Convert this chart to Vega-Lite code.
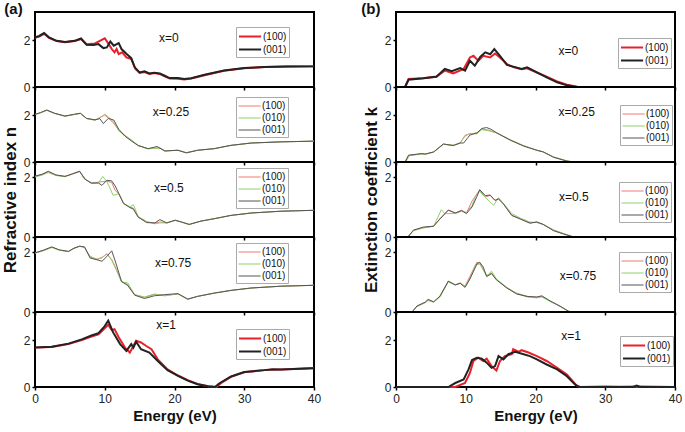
{
"$schema": "https://vega.github.io/schema/vega-lite/v6.json",
"padding": {"left": 0, "top": 2, "right": 0, "bottom": 0},
"background": "white",
"datasets": {
"L1": [
{"s":"(100)","e":0,"v":2.1},{"s":"(100)","e":0.6,"v":2.15},{"s":"(100)","e":1.3,"v":2.27},{"s":"(100)","e":2.0,"v":2.1},{"s":"(100)","e":3.1,"v":1.96},{"s":"(100)","e":4.3,"v":1.91},{"s":"(100)","e":5.7,"v":1.96},{"s":"(100)","e":6.6,"v":2.05},{"s":"(100)","e":7.4,"v":1.82},{"s":"(100)","e":8.6,"v":1.86},{"s":"(100)","e":9.3,"v":1.97},{"s":"(100)","e":10.0,"v":2.08},{"s":"(100)","e":10.5,"v":1.86},{"s":"(100)","e":11.0,"v":1.62},{"s":"(100)","e":11.4,"v":1.48},{"s":"(100)","e":11.7,"v":1.62},{"s":"(100)","e":12.0,"v":1.4},{"s":"(100)","e":12.5,"v":1.48},{"s":"(100)","e":13.1,"v":1.26},{"s":"(100)","e":13.8,"v":1.19},{"s":"(100)","e":14.4,"v":0.77},{"s":"(100)","e":15.0,"v":0.6},{"s":"(100)","e":15.7,"v":0.64},{"s":"(100)","e":16.4,"v":0.56},{"s":"(100)","e":17.1,"v":0.6},{"s":"(100)","e":17.9,"v":0.55},{"s":"(100)","e":18.6,"v":0.45},{"s":"(100)","e":19.3,"v":0.36},{"s":"(100)","e":20.5,"v":0.35},{"s":"(100)","e":21.4,"v":0.32},{"s":"(100)","e":22.4,"v":0.36},{"s":"(100)","e":24.3,"v":0.5},{"s":"(100)","e":27.1,"v":0.69},{"s":"(100)","e":30,"v":0.8},{"s":"(100)","e":32.9,"v":0.85},{"s":"(100)","e":36.2,"v":0.87},{"s":"(100)","e":40,"v":0.88},
{"s":"(001)","e":0,"v":2.11},{"s":"(001)","e":0.6,"v":2.18},{"s":"(001)","e":1.3,"v":2.3},{"s":"(001)","e":2.0,"v":2.12},{"s":"(001)","e":3.1,"v":1.97},{"s":"(001)","e":4.3,"v":1.92},{"s":"(001)","e":5.7,"v":1.97},{"s":"(001)","e":6.6,"v":2.07},{"s":"(001)","e":7.4,"v":1.8},{"s":"(001)","e":8.4,"v":1.79},{"s":"(001)","e":9.1,"v":1.83},{"s":"(001)","e":9.8,"v":1.66},{"s":"(001)","e":10.3,"v":1.69},{"s":"(001)","e":10.8,"v":1.94},{"s":"(001)","e":11.3,"v":1.76},{"s":"(001)","e":12.0,"v":1.87},{"s":"(001)","e":12.4,"v":1.62},{"s":"(001)","e":13.1,"v":1.42},{"s":"(001)","e":13.8,"v":1.23},{"s":"(001)","e":14.3,"v":0.84},{"s":"(001)","e":15.0,"v":0.62},{"s":"(001)","e":15.7,"v":0.67},{"s":"(001)","e":16.4,"v":0.58},{"s":"(001)","e":17.1,"v":0.61},{"s":"(001)","e":17.9,"v":0.58},{"s":"(001)","e":18.6,"v":0.48},{"s":"(001)","e":19.3,"v":0.38},{"s":"(001)","e":20.5,"v":0.38},{"s":"(001)","e":21.4,"v":0.34},{"s":"(001)","e":22.4,"v":0.37},{"s":"(001)","e":24.3,"v":0.52},{"s":"(001)","e":27.1,"v":0.7},{"s":"(001)","e":30,"v":0.81},{"s":"(001)","e":32.9,"v":0.85},{"s":"(001)","e":36.2,"v":0.87},{"s":"(001)","e":40,"v":0.88}
],
"L2": [
{"s":"(100)","e":0,"v":2.03},{"s":"(100)","e":0.8,"v":2.1},{"s":"(100)","e":1.7,"v":2.21},{"s":"(100)","e":2.8,"v":2.08},{"s":"(100)","e":4.3,"v":1.96},{"s":"(100)","e":5.5,"v":2.02},{"s":"(100)","e":6.5,"v":2.07},{"s":"(100)","e":7.4,"v":1.86},{"s":"(100)","e":8.6,"v":1.79},{"s":"(100)","e":9.3,"v":1.9},{"s":"(100)","e":10.0,"v":2.0},{"s":"(100)","e":10.6,"v":1.85},{"s":"(100)","e":11.3,"v":1.65},{"s":"(100)","e":12.0,"v":1.36},{"s":"(100)","e":12.9,"v":1.14},{"s":"(100)","e":13.8,"v":0.93},{"s":"(100)","e":14.8,"v":0.71},{"s":"(100)","e":16.2,"v":0.57},{"s":"(100)","e":17.9,"v":0.6},{"s":"(100)","e":18.6,"v":0.47},{"s":"(100)","e":20.5,"v":0.5},{"s":"(100)","e":21.7,"v":0.39},{"s":"(100)","e":23.3,"v":0.5},{"s":"(100)","e":25.7,"v":0.57},{"s":"(100)","e":28.1,"v":0.71},{"s":"(100)","e":31,"v":0.81},{"s":"(100)","e":35.3,"v":0.86},{"s":"(100)","e":40,"v":0.89},
{"s":"(010)","e":0,"v":2.02},{"s":"(010)","e":0.8,"v":2.1},{"s":"(010)","e":1.7,"v":2.2},{"s":"(010)","e":2.8,"v":2.07},{"s":"(010)","e":4.3,"v":1.95},{"s":"(010)","e":5.5,"v":2.02},{"s":"(010)","e":6.5,"v":2.08},{"s":"(010)","e":7.4,"v":1.85},{"s":"(010)","e":8.6,"v":1.78},{"s":"(010)","e":9.3,"v":1.88},{"s":"(010)","e":10.0,"v":2.04},{"s":"(010)","e":10.6,"v":1.9},{"s":"(010)","e":11.3,"v":1.7},{"s":"(010)","e":12.0,"v":1.33},{"s":"(010)","e":12.9,"v":1.12},{"s":"(010)","e":13.8,"v":0.95},{"s":"(010)","e":14.8,"v":0.7},{"s":"(010)","e":16.2,"v":0.56},{"s":"(010)","e":17.9,"v":0.6},{"s":"(010)","e":18.6,"v":0.48},{"s":"(010)","e":20.5,"v":0.5},{"s":"(010)","e":21.7,"v":0.4},{"s":"(010)","e":23.3,"v":0.5},{"s":"(010)","e":25.7,"v":0.57},{"s":"(010)","e":28.1,"v":0.71},{"s":"(010)","e":31,"v":0.81},{"s":"(010)","e":35.3,"v":0.86},{"s":"(010)","e":40,"v":0.89},
{"s":"(001)","e":0,"v":2.03},{"s":"(001)","e":0.8,"v":2.11},{"s":"(001)","e":1.7,"v":2.22},{"s":"(001)","e":2.8,"v":2.08},{"s":"(001)","e":4.3,"v":1.96},{"s":"(001)","e":5.5,"v":2.03},{"s":"(001)","e":6.5,"v":2.08},{"s":"(001)","e":7.4,"v":1.86},{"s":"(001)","e":8.6,"v":1.8},{"s":"(001)","e":9.3,"v":1.85},{"s":"(001)","e":9.8,"v":1.64},{"s":"(001)","e":10.5,"v":1.86},{"s":"(001)","e":11.3,"v":1.79},{"s":"(001)","e":12.0,"v":1.4},{"s":"(001)","e":12.9,"v":1.1},{"s":"(001)","e":13.8,"v":0.9},{"s":"(001)","e":14.8,"v":0.7},{"s":"(001)","e":16.2,"v":0.57},{"s":"(001)","e":17.5,"v":0.66},{"s":"(001)","e":18.6,"v":0.47},{"s":"(001)","e":20.5,"v":0.5},{"s":"(001)","e":21.7,"v":0.39},{"s":"(001)","e":23.3,"v":0.5},{"s":"(001)","e":25.7,"v":0.57},{"s":"(001)","e":28.1,"v":0.71},{"s":"(001)","e":31,"v":0.81},{"s":"(001)","e":35.3,"v":0.86},{"s":"(001)","e":40,"v":0.89}
],
"L3": [
{"s":"(100)","e":0,"v":2.02},{"s":"(100)","e":1.0,"v":2.08},{"s":"(100)","e":1.9,"v":2.17},{"s":"(100)","e":3.0,"v":2.06},{"s":"(100)","e":4.3,"v":2.02},{"s":"(100)","e":5.4,"v":2.1},{"s":"(100)","e":6.4,"v":2.18},{"s":"(100)","e":7.2,"v":1.93},{"s":"(100)","e":8.1,"v":1.78},{"s":"(100)","e":9.1,"v":1.83},{"s":"(100)","e":10.3,"v":1.86},{"s":"(100)","e":11.0,"v":1.82},{"s":"(100)","e":11.5,"v":1.55},{"s":"(100)","e":12.0,"v":1.44},{"s":"(100)","e":12.7,"v":1.11},{"s":"(100)","e":13.6,"v":1.0},{"s":"(100)","e":14.1,"v":0.96},{"s":"(100)","e":14.8,"v":0.67},{"s":"(100)","e":16.0,"v":0.5},{"s":"(100)","e":17.2,"v":0.46},{"s":"(100)","e":17.9,"v":0.5},{"s":"(100)","e":18.9,"v":0.47},{"s":"(100)","e":20.1,"v":0.56},{"s":"(100)","e":21.0,"v":0.5},{"s":"(100)","e":22.1,"v":0.42},{"s":"(100)","e":23.8,"v":0.53},{"s":"(100)","e":25.7,"v":0.61},{"s":"(100)","e":28.1,"v":0.72},{"s":"(100)","e":31,"v":0.8},{"s":"(100)","e":35.3,"v":0.86},{"s":"(100)","e":40,"v":0.89},
{"s":"(010)","e":0,"v":2.0},{"s":"(010)","e":1.0,"v":2.06},{"s":"(010)","e":1.9,"v":2.15},{"s":"(010)","e":3.0,"v":2.05},{"s":"(010)","e":4.3,"v":2.01},{"s":"(010)","e":5.4,"v":2.1},{"s":"(010)","e":6.4,"v":2.2},{"s":"(010)","e":7.0,"v":1.95},{"s":"(010)","e":8.1,"v":1.8},{"s":"(010)","e":9.1,"v":1.8},{"s":"(010)","e":9.7,"v":2.02},{"s":"(010)","e":10.3,"v":1.85},{"s":"(010)","e":10.8,"v":1.6},{"s":"(010)","e":11.2,"v":1.39},{"s":"(010)","e":12.0,"v":1.44},{"s":"(010)","e":12.7,"v":1.12},{"s":"(010)","e":13.6,"v":1.0},{"s":"(010)","e":14.1,"v":1.08},{"s":"(010)","e":14.8,"v":0.68},{"s":"(010)","e":16.0,"v":0.52},{"s":"(010)","e":17.2,"v":0.44},{"s":"(010)","e":17.9,"v":0.47},{"s":"(010)","e":18.9,"v":0.47},{"s":"(010)","e":20.1,"v":0.55},{"s":"(010)","e":21.0,"v":0.5},{"s":"(010)","e":22.1,"v":0.41},{"s":"(010)","e":23.8,"v":0.53},{"s":"(010)","e":25.7,"v":0.61},{"s":"(010)","e":28.1,"v":0.72},{"s":"(010)","e":31,"v":0.8},{"s":"(010)","e":35.3,"v":0.86},{"s":"(010)","e":40,"v":0.89},
{"s":"(001)","e":0,"v":2.03},{"s":"(001)","e":1.0,"v":2.09},{"s":"(001)","e":1.9,"v":2.19},{"s":"(001)","e":3.0,"v":2.07},{"s":"(001)","e":4.3,"v":2.02},{"s":"(001)","e":5.4,"v":2.11},{"s":"(001)","e":6.4,"v":2.19},{"s":"(001)","e":7.2,"v":1.92},{"s":"(001)","e":8.1,"v":1.8},{"s":"(001)","e":9.1,"v":1.8},{"s":"(001)","e":9.6,"v":1.72},{"s":"(001)","e":10.3,"v":1.89},{"s":"(001)","e":11.0,"v":1.87},{"s":"(001)","e":11.5,"v":1.7},{"s":"(001)","e":12.0,"v":1.46},{"s":"(001)","e":12.7,"v":1.12},{"s":"(001)","e":13.6,"v":0.98},{"s":"(001)","e":14.1,"v":0.93},{"s":"(001)","e":14.8,"v":0.66},{"s":"(001)","e":16.0,"v":0.48},{"s":"(001)","e":17.2,"v":0.47},{"s":"(001)","e":17.9,"v":0.58},{"s":"(001)","e":18.9,"v":0.47},{"s":"(001)","e":20.1,"v":0.56},{"s":"(001)","e":21.0,"v":0.5},{"s":"(001)","e":22.1,"v":0.42},{"s":"(001)","e":23.8,"v":0.53},{"s":"(001)","e":25.7,"v":0.61},{"s":"(001)","e":28.1,"v":0.72},{"s":"(001)","e":31,"v":0.8},{"s":"(001)","e":35.3,"v":0.86},{"s":"(001)","e":40,"v":0.89}
],
"L4": [
{"s":"(100)","e":0,"v":1.97},{"s":"(100)","e":1.2,"v":2.05},{"s":"(100)","e":2.4,"v":2.16},{"s":"(100)","e":3.5,"v":2.06},{"s":"(100)","e":4.8,"v":2.02},{"s":"(100)","e":5.6,"v":2.12},{"s":"(100)","e":6.4,"v":2.19},{"s":"(100)","e":7.1,"v":2.16},{"s":"(100)","e":7.9,"v":1.83},{"s":"(100)","e":8.9,"v":1.76},{"s":"(100)","e":9.6,"v":1.82},{"s":"(100)","e":10.3,"v":1.93},{"s":"(100)","e":11.0,"v":1.75},{"s":"(100)","e":11.7,"v":1.41},{"s":"(100)","e":12.4,"v":1.02},{"s":"(100)","e":13.3,"v":0.91},{"s":"(100)","e":14.3,"v":0.58},{"s":"(100)","e":15.7,"v":0.49},{"s":"(100)","e":17.1,"v":0.58},{"s":"(100)","e":18.6,"v":0.54},{"s":"(100)","e":20.5,"v":0.61},{"s":"(100)","e":21.9,"v":0.43},{"s":"(100)","e":23.3,"v":0.52},{"s":"(100)","e":25.7,"v":0.63},{"s":"(100)","e":28.1,"v":0.72},{"s":"(100)","e":31,"v":0.8},{"s":"(100)","e":35.3,"v":0.86},{"s":"(100)","e":40,"v":0.89},
{"s":"(010)","e":0,"v":1.96},{"s":"(010)","e":1.2,"v":2.04},{"s":"(010)","e":2.4,"v":2.15},{"s":"(010)","e":3.5,"v":2.06},{"s":"(010)","e":4.8,"v":2.01},{"s":"(010)","e":5.6,"v":2.12},{"s":"(010)","e":6.4,"v":2.2},{"s":"(010)","e":7.1,"v":2.15},{"s":"(010)","e":7.9,"v":1.86},{"s":"(010)","e":8.9,"v":1.75},{"s":"(010)","e":9.6,"v":1.8},{"s":"(010)","e":10.3,"v":1.95},{"s":"(010)","e":11.0,"v":1.72},{"s":"(010)","e":11.7,"v":1.38},{"s":"(010)","e":12.4,"v":1.0},{"s":"(010)","e":13.3,"v":0.97},{"s":"(010)","e":14.3,"v":0.57},{"s":"(010)","e":15.7,"v":0.5},{"s":"(010)","e":17.1,"v":0.6},{"s":"(010)","e":18.6,"v":0.55},{"s":"(010)","e":20.5,"v":0.6},{"s":"(010)","e":21.9,"v":0.42},{"s":"(010)","e":23.3,"v":0.52},{"s":"(010)","e":25.7,"v":0.63},{"s":"(010)","e":28.1,"v":0.72},{"s":"(010)","e":31,"v":0.8},{"s":"(010)","e":35.3,"v":0.86},{"s":"(010)","e":40,"v":0.89},
{"s":"(001)","e":0,"v":1.97},{"s":"(001)","e":1.2,"v":2.06},{"s":"(001)","e":2.4,"v":2.17},{"s":"(001)","e":3.5,"v":2.07},{"s":"(001)","e":4.8,"v":2.02},{"s":"(001)","e":5.6,"v":2.13},{"s":"(001)","e":6.4,"v":2.19},{"s":"(001)","e":7.1,"v":2.17},{"s":"(001)","e":7.9,"v":1.8},{"s":"(001)","e":8.9,"v":1.74},{"s":"(001)","e":9.6,"v":1.69},{"s":"(001)","e":10.3,"v":1.85},{"s":"(001)","e":11.0,"v":2.04},{"s":"(001)","e":11.5,"v":1.7},{"s":"(001)","e":12.4,"v":1.02},{"s":"(001)","e":13.3,"v":0.88},{"s":"(001)","e":14.3,"v":0.56},{"s":"(001)","e":15.7,"v":0.45},{"s":"(001)","e":17.1,"v":0.54},{"s":"(001)","e":18.6,"v":0.58},{"s":"(001)","e":20.5,"v":0.61},{"s":"(001)","e":21.9,"v":0.43},{"s":"(001)","e":23.3,"v":0.52},{"s":"(001)","e":25.7,"v":0.63},{"s":"(001)","e":28.1,"v":0.72},{"s":"(001)","e":31,"v":0.8},{"s":"(001)","e":35.3,"v":0.86},{"s":"(001)","e":40,"v":0.89}
],
"L5": [
{"s":"(100)","e":0,"v":1.68},{"s":"(100)","e":2.4,"v":1.71},{"s":"(100)","e":4.8,"v":1.83},{"s":"(100)","e":6.7,"v":2.0},{"s":"(100)","e":8.1,"v":2.15},{"s":"(100)","e":9.1,"v":2.25},{"s":"(100)","e":10.0,"v":2.5},{"s":"(100)","e":10.5,"v":2.65},{"s":"(100)","e":11.0,"v":2.43},{"s":"(100)","e":11.4,"v":2.47},{"s":"(100)","e":12.0,"v":2.12},{"s":"(100)","e":12.9,"v":1.68},{"s":"(100)","e":13.6,"v":1.47},{"s":"(100)","e":14.5,"v":1.97},{"s":"(100)","e":15.2,"v":1.9},{"s":"(100)","e":15.9,"v":1.76},{"s":"(100)","e":16.7,"v":1.61},{"s":"(100)","e":17.6,"v":1.18},{"s":"(100)","e":19.0,"v":0.75},{"s":"(100)","e":20.5,"v":0.49},{"s":"(100)","e":21.9,"v":0.29},{"s":"(100)","e":23.3,"v":0.13},{"s":"(100)","e":24.8,"v":0.03},{"s":"(100)","e":26.0,"v":0.0},{"s":"(100)","e":26.7,"v":0.17},{"s":"(100)","e":28.1,"v":0.43},{"s":"(100)","e":30,"v":0.63},{"s":"(100)","e":32.9,"v":0.72},{"s":"(100)","e":35.3,"v":0.75},{"s":"(100)","e":40,"v":0.81},
{"s":"(001)","e":0,"v":1.69},{"s":"(001)","e":2.4,"v":1.72},{"s":"(001)","e":4.8,"v":1.85},{"s":"(001)","e":6.7,"v":2.03},{"s":"(001)","e":8.1,"v":2.2},{"s":"(001)","e":9.1,"v":2.3},{"s":"(001)","e":10.0,"v":2.6},{"s":"(001)","e":10.5,"v":2.83},{"s":"(001)","e":11.2,"v":2.33},{"s":"(001)","e":12.2,"v":1.83},{"s":"(001)","e":13.1,"v":1.54},{"s":"(001)","e":13.8,"v":1.83},{"s":"(001)","e":14.1,"v":1.68},{"s":"(001)","e":14.5,"v":1.93},{"s":"(001)","e":15.2,"v":1.61},{"s":"(001)","e":16.4,"v":1.47},{"s":"(001)","e":17.6,"v":1.11},{"s":"(001)","e":19.0,"v":0.72},{"s":"(001)","e":20.5,"v":0.47},{"s":"(001)","e":21.9,"v":0.27},{"s":"(001)","e":23.3,"v":0.12},{"s":"(001)","e":24.8,"v":0.03},{"s":"(001)","e":25.8,"v":0.0},{"s":"(001)","e":26.4,"v":0.15},{"s":"(001)","e":28.1,"v":0.45},{"s":"(001)","e":30,"v":0.64},{"s":"(001)","e":32.9,"v":0.72},{"s":"(001)","e":34,"v":0.76},{"s":"(001)","e":35.3,"v":0.75},{"s":"(001)","e":40,"v":0.8}
],
"R1": [
{"s":"(100)","e":0,"v":0},{"s":"(100)","e":1.3,"v":0},{"s":"(100)","e":1.8,"v":0.34},{"s":"(100)","e":3.9,"v":0.37},{"s":"(100)","e":5.8,"v":0.45},{"s":"(100)","e":7.0,"v":0.7},{"s":"(100)","e":8.2,"v":0.58},{"s":"(100)","e":9.7,"v":0.77},{"s":"(100)","e":10.6,"v":1.26},{"s":"(100)","e":11.1,"v":1.33},{"s":"(100)","e":11.8,"v":1.12},{"s":"(100)","e":12.5,"v":1.33},{"s":"(100)","e":13.5,"v":1.26},{"s":"(100)","e":14.2,"v":1.43},{"s":"(100)","e":14.9,"v":1.26},{"s":"(100)","e":15.9,"v":0.98},{"s":"(100)","e":16.8,"v":0.85},{"s":"(100)","e":18.0,"v":0.76},{"s":"(100)","e":18.8,"v":0.8},{"s":"(100)","e":20.2,"v":0.62},{"s":"(100)","e":21.6,"v":0.44},{"s":"(100)","e":23.1,"v":0.24},{"s":"(100)","e":24.5,"v":0.1},{"s":"(100)","e":26.0,"v":0.01},{"s":"(100)","e":28,"v":0},{"s":"(100)","e":40,"v":0},
{"s":"(001)","e":0,"v":0},{"s":"(001)","e":1.3,"v":0},{"s":"(001)","e":1.8,"v":0.31},{"s":"(001)","e":3.9,"v":0.37},{"s":"(001)","e":5.8,"v":0.44},{"s":"(001)","e":7.0,"v":0.77},{"s":"(001)","e":8.0,"v":0.67},{"s":"(001)","e":9.2,"v":0.81},{"s":"(001)","e":9.9,"v":0.7},{"s":"(001)","e":10.6,"v":1.12},{"s":"(001)","e":11.3,"v":0.91},{"s":"(001)","e":12.1,"v":1.29},{"s":"(001)","e":12.8,"v":1.48},{"s":"(001)","e":13.5,"v":1.4},{"s":"(001)","e":14.1,"v":1.62},{"s":"(001)","e":14.9,"v":1.33},{"s":"(001)","e":15.9,"v":0.94},{"s":"(001)","e":16.8,"v":0.87},{"s":"(001)","e":18.0,"v":0.77},{"s":"(001)","e":18.8,"v":0.84},{"s":"(001)","e":20.2,"v":0.62},{"s":"(001)","e":21.6,"v":0.41},{"s":"(001)","e":23.1,"v":0.2},{"s":"(001)","e":24.5,"v":0.07},{"s":"(001)","e":25.9,"v":0},{"s":"(001)","e":40,"v":0}
],
"R2": [
{"s":"(100)","e":0,"v":0},{"s":"(100)","e":1.3,"v":0},{"s":"(100)","e":1.8,"v":0.28},{"s":"(100)","e":3.7,"v":0.35},{"s":"(100)","e":4.2,"v":0.33},{"s":"(100)","e":5.4,"v":0.43},{"s":"(100)","e":6.8,"v":0.76},{"s":"(100)","e":8.2,"v":0.71},{"s":"(100)","e":9.2,"v":0.8},{"s":"(100)","e":9.9,"v":1.14},{"s":"(100)","e":10.6,"v":1.2},{"s":"(100)","e":11.6,"v":1.24},{"s":"(100)","e":12.3,"v":1.4},{"s":"(100)","e":13.3,"v":1.36},{"s":"(100)","e":14.4,"v":1.24},{"s":"(100)","e":16.4,"v":0.93},{"s":"(100)","e":18.3,"v":0.69},{"s":"(100)","e":20.2,"v":0.5},{"s":"(100)","e":21.1,"v":0.43},{"s":"(100)","e":22.6,"v":0.21},{"s":"(100)","e":24.5,"v":0.04},{"s":"(100)","e":25.5,"v":0},{"s":"(100)","e":40,"v":0},
{"s":"(010)","e":0,"v":0},{"s":"(010)","e":1.4,"v":0},{"s":"(010)","e":1.9,"v":0.27},{"s":"(010)","e":3.7,"v":0.34},{"s":"(010)","e":4.2,"v":0.33},{"s":"(010)","e":5.4,"v":0.42},{"s":"(010)","e":6.8,"v":0.75},{"s":"(010)","e":8.2,"v":0.72},{"s":"(010)","e":9.2,"v":0.82},{"s":"(010)","e":9.9,"v":1.1},{"s":"(010)","e":10.6,"v":1.22},{"s":"(010)","e":11.6,"v":1.2},{"s":"(010)","e":12.3,"v":1.38},{"s":"(010)","e":13.3,"v":1.33},{"s":"(010)","e":14.4,"v":1.25},{"s":"(010)","e":16.4,"v":0.95},{"s":"(010)","e":18.3,"v":0.7},{"s":"(010)","e":20.2,"v":0.5},{"s":"(010)","e":21.1,"v":0.44},{"s":"(010)","e":22.6,"v":0.22},{"s":"(010)","e":24.5,"v":0.05},{"s":"(010)","e":25.5,"v":0},{"s":"(010)","e":40,"v":0},
{"s":"(001)","e":0,"v":0},{"s":"(001)","e":1.3,"v":0},{"s":"(001)","e":1.8,"v":0.29},{"s":"(001)","e":3.7,"v":0.36},{"s":"(001)","e":4.2,"v":0.34},{"s":"(001)","e":5.4,"v":0.43},{"s":"(001)","e":6.8,"v":0.77},{"s":"(001)","e":8.2,"v":0.7},{"s":"(001)","e":9.2,"v":0.81},{"s":"(001)","e":9.7,"v":0.81},{"s":"(001)","e":10.2,"v":1.0},{"s":"(001)","e":10.6,"v":1.15},{"s":"(001)","e":11.6,"v":1.24},{"s":"(001)","e":12.3,"v":1.43},{"s":"(001)","e":13.0,"v":1.47},{"s":"(001)","e":13.6,"v":1.4},{"s":"(001)","e":14.4,"v":1.25},{"s":"(001)","e":16.4,"v":0.93},{"s":"(001)","e":18.3,"v":0.68},{"s":"(001)","e":20.2,"v":0.5},{"s":"(001)","e":21.1,"v":0.43},{"s":"(001)","e":22.6,"v":0.2},{"s":"(001)","e":24.5,"v":0.04},{"s":"(001)","e":25.5,"v":0},{"s":"(001)","e":40,"v":0}
],
"R3": [
{"s":"(100)","e":0,"v":0},{"s":"(100)","e":1.7,"v":0},{"s":"(100)","e":2.5,"v":0.22},{"s":"(100)","e":3.9,"v":0.31},{"s":"(100)","e":5.4,"v":0.36},{"s":"(100)","e":6.3,"v":0.61},{"s":"(100)","e":7.5,"v":0.89},{"s":"(100)","e":8.5,"v":0.8},{"s":"(100)","e":9.4,"v":0.89},{"s":"(100)","e":10.1,"v":0.8},{"s":"(100)","e":10.9,"v":1.2},{"s":"(100)","e":11.6,"v":1.44},{"s":"(100)","e":12.0,"v":1.56},{"s":"(100)","e":12.8,"v":1.33},{"s":"(100)","e":13.5,"v":1.39},{"s":"(100)","e":14.2,"v":1.22},{"s":"(100)","e":14.7,"v":1.28},{"s":"(100)","e":15.4,"v":1.11},{"s":"(100)","e":16.6,"v":0.72},{"s":"(100)","e":17.8,"v":0.61},{"s":"(100)","e":19.2,"v":0.47},{"s":"(100)","e":20.2,"v":0.5},{"s":"(100)","e":21.1,"v":0.42},{"s":"(100)","e":22.6,"v":0.22},{"s":"(100)","e":24.0,"v":0.11},{"s":"(100)","e":25.2,"v":0.02},{"s":"(100)","e":25.7,"v":0},{"s":"(100)","e":40,"v":0},
{"s":"(010)","e":0,"v":0},{"s":"(010)","e":1.7,"v":0},{"s":"(010)","e":2.5,"v":0.21},{"s":"(010)","e":3.9,"v":0.3},{"s":"(010)","e":5.4,"v":0.36},{"s":"(010)","e":6.5,"v":0.91},{"s":"(010)","e":7.0,"v":0.78},{"s":"(010)","e":8.5,"v":0.78},{"s":"(010)","e":9.4,"v":0.86},{"s":"(010)","e":10.1,"v":0.82},{"s":"(010)","e":10.9,"v":1.05},{"s":"(010)","e":11.4,"v":1.35},{"s":"(010)","e":12.0,"v":1.52},{"s":"(010)","e":12.8,"v":1.32},{"s":"(010)","e":14.0,"v":1.06},{"s":"(010)","e":14.7,"v":1.31},{"s":"(010)","e":15.4,"v":1.12},{"s":"(010)","e":16.6,"v":0.78},{"s":"(010)","e":17.8,"v":0.63},{"s":"(010)","e":19.2,"v":0.5},{"s":"(010)","e":20.2,"v":0.48},{"s":"(010)","e":21.1,"v":0.42},{"s":"(010)","e":22.6,"v":0.24},{"s":"(010)","e":24.0,"v":0.12},{"s":"(010)","e":25.2,"v":0.02},{"s":"(010)","e":25.7,"v":0},{"s":"(010)","e":40,"v":0},
{"s":"(001)","e":0,"v":0},{"s":"(001)","e":1.7,"v":0},{"s":"(001)","e":2.5,"v":0.23},{"s":"(001)","e":3.9,"v":0.33},{"s":"(001)","e":5.4,"v":0.36},{"s":"(001)","e":6.3,"v":0.6},{"s":"(001)","e":7.5,"v":0.9},{"s":"(001)","e":8.5,"v":0.8},{"s":"(001)","e":9.4,"v":0.88},{"s":"(001)","e":10.1,"v":0.78},{"s":"(001)","e":10.9,"v":1.0},{"s":"(001)","e":11.6,"v":1.35},{"s":"(001)","e":12.0,"v":1.58},{"s":"(001)","e":12.8,"v":1.38},{"s":"(001)","e":13.5,"v":1.4},{"s":"(001)","e":14.2,"v":1.22},{"s":"(001)","e":14.7,"v":1.27},{"s":"(001)","e":15.4,"v":1.1},{"s":"(001)","e":16.6,"v":0.72},{"s":"(001)","e":17.8,"v":0.6},{"s":"(001)","e":19.2,"v":0.46},{"s":"(001)","e":20.2,"v":0.5},{"s":"(001)","e":21.1,"v":0.42},{"s":"(001)","e":22.6,"v":0.21},{"s":"(001)","e":24.0,"v":0.1},{"s":"(001)","e":25.2,"v":0.02},{"s":"(001)","e":25.7,"v":0},{"s":"(001)","e":40,"v":0}
],
"R4": [
{"s":"(100)","e":0,"v":0},{"s":"(100)","e":2.3,"v":0},{"s":"(100)","e":3.0,"v":0.19},{"s":"(100)","e":4.2,"v":0.32},{"s":"(100)","e":4.6,"v":0.41},{"s":"(100)","e":5.4,"v":0.33},{"s":"(100)","e":6.3,"v":0.52},{"s":"(100)","e":7.5,"v":1.02},{"s":"(100)","e":8.5,"v":0.91},{"s":"(100)","e":9.2,"v":0.97},{"s":"(100)","e":9.9,"v":0.86},{"s":"(100)","e":10.6,"v":1.19},{"s":"(100)","e":11.6,"v":1.66},{"s":"(100)","e":12.0,"v":1.63},{"s":"(100)","e":13.0,"v":1.21},{"s":"(100)","e":13.7,"v":1.3},{"s":"(100)","e":14.4,"v":1.08},{"s":"(100)","e":15.9,"v":0.8},{"s":"(100)","e":17.3,"v":0.63},{"s":"(100)","e":18.8,"v":0.52},{"s":"(100)","e":20.2,"v":0.49},{"s":"(100)","e":20.9,"v":0.52},{"s":"(100)","e":22.1,"v":0.36},{"s":"(100)","e":23.5,"v":0.19},{"s":"(100)","e":24.7,"v":0.02},{"s":"(100)","e":25.2,"v":0},{"s":"(100)","e":40,"v":0},
{"s":"(010)","e":0,"v":0},{"s":"(010)","e":2.3,"v":0},{"s":"(010)","e":3.0,"v":0.18},{"s":"(010)","e":4.2,"v":0.31},{"s":"(010)","e":4.6,"v":0.38},{"s":"(010)","e":5.4,"v":0.33},{"s":"(010)","e":6.3,"v":0.5},{"s":"(010)","e":7.5,"v":1.0},{"s":"(010)","e":8.5,"v":0.9},{"s":"(010)","e":9.2,"v":0.95},{"s":"(010)","e":9.9,"v":0.85},{"s":"(010)","e":10.6,"v":1.12},{"s":"(010)","e":11.4,"v":1.58},{"s":"(010)","e":12.0,"v":1.6},{"s":"(010)","e":13.0,"v":1.2},{"s":"(010)","e":13.7,"v":1.36},{"s":"(010)","e":14.4,"v":1.1},{"s":"(010)","e":15.9,"v":0.82},{"s":"(010)","e":17.3,"v":0.62},{"s":"(010)","e":18.8,"v":0.5},{"s":"(010)","e":20.2,"v":0.47},{"s":"(010)","e":20.9,"v":0.5},{"s":"(010)","e":22.1,"v":0.35},{"s":"(010)","e":23.5,"v":0.19},{"s":"(010)","e":24.7,"v":0.03},{"s":"(010)","e":25.2,"v":0},{"s":"(010)","e":40,"v":0},
{"s":"(001)","e":0,"v":0},{"s":"(001)","e":2.3,"v":0},{"s":"(001)","e":3.0,"v":0.2},{"s":"(001)","e":4.2,"v":0.33},{"s":"(001)","e":4.6,"v":0.42},{"s":"(001)","e":5.4,"v":0.34},{"s":"(001)","e":6.3,"v":0.53},{"s":"(001)","e":7.5,"v":1.03},{"s":"(001)","e":8.5,"v":0.9},{"s":"(001)","e":9.2,"v":0.96},{"s":"(001)","e":9.9,"v":0.82},{"s":"(001)","e":10.6,"v":1.1},{"s":"(001)","e":11.6,"v":1.6},{"s":"(001)","e":12.0,"v":1.66},{"s":"(001)","e":12.5,"v":1.5},{"s":"(001)","e":13.0,"v":1.18},{"s":"(001)","e":13.7,"v":1.28},{"s":"(001)","e":14.4,"v":1.07},{"s":"(001)","e":15.9,"v":0.8},{"s":"(001)","e":17.3,"v":0.6},{"s":"(001)","e":18.8,"v":0.52},{"s":"(001)","e":20.2,"v":0.5},{"s":"(001)","e":20.9,"v":0.54},{"s":"(001)","e":22.1,"v":0.37},{"s":"(001)","e":23.5,"v":0.2},{"s":"(001)","e":24.7,"v":0.03},{"s":"(001)","e":25.2,"v":0},{"s":"(001)","e":40,"v":0}
],
"R5": [
{"s":"(100)","e":0,"v":0},{"s":"(100)","e":8.5,"v":0},{"s":"(100)","e":9.9,"v":0.17},{"s":"(100)","e":10.6,"v":0.6},{"s":"(100)","e":11.1,"v":1.11},{"s":"(100)","e":11.8,"v":1.25},{"s":"(100)","e":12.5,"v":1.11},{"s":"(100)","e":13.0,"v":1.21},{"s":"(100)","e":13.7,"v":0.89},{"s":"(100)","e":14.4,"v":0.7},{"s":"(100)","e":14.9,"v":1.11},{"s":"(100)","e":15.6,"v":1.32},{"s":"(100)","e":16.6,"v":1.4},{"s":"(100)","e":16.8,"v":1.61},{"s":"(100)","e":17.6,"v":1.5},{"s":"(100)","e":18.0,"v":1.57},{"s":"(100)","e":19.0,"v":1.47},{"s":"(100)","e":20.2,"v":1.32},{"s":"(100)","e":21.6,"v":1.11},{"s":"(100)","e":23.1,"v":0.82},{"s":"(100)","e":24.5,"v":0.53},{"s":"(100)","e":25.9,"v":0.06},{"s":"(100)","e":26.4,"v":0},{"s":"(100)","e":30,"v":0.02},{"s":"(100)","e":32,"v":0.01},{"s":"(100)","e":35,"v":0.02},{"s":"(100)","e":40,"v":0},
{"s":"(001)","e":0,"v":0},{"s":"(001)","e":7.5,"v":0},{"s":"(001)","e":8.5,"v":0.17},{"s":"(001)","e":9.7,"v":0.32},{"s":"(001)","e":10.4,"v":0.75},{"s":"(001)","e":10.9,"v":1.15},{"s":"(001)","e":11.6,"v":1.25},{"s":"(001)","e":12.3,"v":1.21},{"s":"(001)","e":13.0,"v":1.04},{"s":"(001)","e":13.7,"v":0.82},{"s":"(001)","e":14.2,"v":0.89},{"s":"(001)","e":14.7,"v":1.32},{"s":"(001)","e":15.4,"v":1.18},{"s":"(001)","e":16.1,"v":1.4},{"s":"(001)","e":17.1,"v":1.5},{"s":"(001)","e":18.3,"v":1.4},{"s":"(001)","e":19.2,"v":1.32},{"s":"(001)","e":20.2,"v":1.18},{"s":"(001)","e":21.6,"v":0.96},{"s":"(001)","e":23.1,"v":0.75},{"s":"(001)","e":24.5,"v":0.46},{"s":"(001)","e":25.7,"v":0.1},{"s":"(001)","e":26.3,"v":0},{"s":"(001)","e":34,"v":0},{"s":"(001)","e":34.5,"v":0.06},{"s":"(001)","e":35,"v":0},{"s":"(001)","e":40,"v":0}
]
},
"hconcat": [
{
"title": {"text": "(a)", "anchor": "start", "fontSize": 15, "fontWeight": "bold", "offset": -6, "dx": 4, "color": "#111"},
"spacing": 0,
"bounds": "flush",
"resolve": {"scale": {"color": "independent", "y": "independent", "x": "independent"}, "legend": {"color": "independent"}},
"vconcat": [
{"width": 279, "height": 75, "layer": [
{"data": {"name": "L1"}, "mark": {"type": "line", "strokeWidth": 2},
"encoding": {
"x": {"field": "e", "type": "quantitative", "scale": {"domain": [0, 40], "nice": false}, "axis": {"values": [0,5,10,15,20,25,30,35,40], "labels": false, "title": null}},
"y": {"field": "v", "type": "quantitative", "scale": {"domain": [0, 3.2], "nice": false}, "axis": {"values": [0,1,2], "labelExpr": "datum.value % 2 == 0 ? datum.label : ''", "title": null}},
"color": {"field": "s", "type": "nominal", "scale": {"domain": ["(100)", "(001)"], "range": ["#e8202a", "#222222"]}, "legend": {"title": null, "legendX": 201, "legendY": 15, "symbolStrokeWidth": 2, "symbolType": "M-1,0H2.4"}}}},
{"data": {"values": [{}]}, "mark": {"type": "text"}, "encoding": {"x": {"datum": 19.2}, "y": {"datum": 2.09}, "text": {"value": "x=0"}}}
]},
{"width": 279, "height": 75, "layer": [
{"data": {"name": "L2"}, "mark": {"type": "line", "strokeWidth": 1},
"encoding": {
"x": {"field": "e", "type": "quantitative", "scale": {"domain": [0, 40], "nice": false}, "axis": {"values": [0,5,10,15,20,25,30,35,40], "labels": false, "title": null}},
"y": {"field": "v", "type": "quantitative", "scale": {"domain": [0, 3.2], "nice": false}, "axis": {"values": [0,1,2], "labelExpr": "datum.value % 2 == 0 ? datum.label : ''", "title": null}},
"color": {"field": "s", "type": "nominal", "scale": {"domain": ["(100)", "(010)", "(001)"], "range": ["#f27676", "#8fd06c", "#555555"]}, "legend": {"title": null, "legendX": 201, "legendY": 10, "symbolStrokeWidth": 1, "symbolType": "M-1,0H2.4"}}}},
{"data": {"values": [{}]}, "mark": {"type": "text"}, "encoding": {"x": {"datum": 19.5}, "y": {"datum": 2.13}, "text": {"value": "x=0.25"}}}
]},
{"width": 279, "height": 75, "layer": [
{"data": {"name": "L3"}, "mark": {"type": "line", "strokeWidth": 1},
"encoding": {
"x": {"field": "e", "type": "quantitative", "scale": {"domain": [0, 40], "nice": false}, "axis": {"values": [0,5,10,15,20,25,30,35,40], "labels": false, "title": null}},
"y": {"field": "v", "type": "quantitative", "scale": {"domain": [0, 2.5], "nice": false}, "axis": {"values": [0,1,2], "labelExpr": "datum.value % 2 == 0 ? datum.label : ''", "title": "Refractive index n"}},
"color": {"field": "s", "type": "nominal", "scale": {"domain": ["(100)", "(010)", "(001)"], "range": ["#f27676", "#8fd06c", "#555555"]}, "legend": {"title": null, "legendX": 201, "legendY": 6, "symbolStrokeWidth": 1, "symbolType": "M-1,0H2.4"}}}},
{"data": {"values": [{}]}, "mark": {"type": "text"}, "encoding": {"x": {"datum": 19.2}, "y": {"datum": 1.63}, "text": {"value": "x=0.5"}}}
]},
{"width": 279, "height": 75, "layer": [
{"data": {"name": "L4"}, "mark": {"type": "line", "strokeWidth": 1},
"encoding": {
"x": {"field": "e", "type": "quantitative", "scale": {"domain": [0, 40], "nice": false}, "axis": {"values": [0,5,10,15,20,25,30,35,40], "labels": false, "title": null}},
"y": {"field": "v", "type": "quantitative", "scale": {"domain": [0, 2.5], "nice": false}, "axis": {"values": [0,1,2], "labelExpr": "datum.value % 2 == 0 ? datum.label : ''", "title": null}},
"color": {"field": "s", "type": "nominal", "scale": {"domain": ["(100)", "(010)", "(001)"], "range": ["#f27676", "#8fd06c", "#555555"]}, "legend": {"title": null, "legendX": 201, "legendY": 6, "symbolStrokeWidth": 1, "symbolType": "M-1,0H2.4"}}}},
{"data": {"values": [{}]}, "mark": {"type": "text"}, "encoding": {"x": {"datum": 19.8}, "y": {"datum": 1.63}, "text": {"value": "x=0.75"}}}
]},
{"width": 279, "height": 75, "layer": [
{"data": {"name": "L5"}, "mark": {"type": "line", "strokeWidth": 2},
"encoding": {
"x": {"field": "e", "type": "quantitative", "scale": {"domain": [0, 40], "nice": false}, "axis": {"values": [0,5,10,15,20,25,30,35,40], "labelExpr": "datum.value % 10 == 0 ? datum.label : ''", "title": "Energy (eV)"}},
"y": {"field": "v", "type": "quantitative", "scale": {"domain": [0, 3.2], "nice": false}, "axis": {"values": [0,1,2], "labelExpr": "datum.value % 2 == 0 ? datum.label : ''", "title": null}},
"color": {"field": "s", "type": "nominal", "scale": {"domain": ["(100)", "(001)"], "range": ["#e8202a", "#222222"]}, "legend": {"title": null, "legendX": 201, "legendY": 17, "symbolStrokeWidth": 2, "symbolType": "M-1,0H2.4"}}}},
{"data": {"values": [{}]}, "mark": {"type": "text"}, "encoding": {"x": {"datum": 18.8}, "y": {"datum": 2.65}, "text": {"value": "x=1"}}}
]}
]
},
{
"title": {"text": "(b)", "anchor": "start", "fontSize": 15, "fontWeight": "bold", "offset": -6, "dx": 0, "color": "#111"},
"spacing": 0,
"bounds": "flush",
"resolve": {"scale": {"color": "independent", "y": "independent", "x": "independent"}, "legend": {"color": "independent"}},
"vconcat": [
{"width": 279, "height": 75, "layer": [
{"data": {"name": "R1"}, "mark": {"type": "line", "strokeWidth": 2},
"encoding": {
"x": {"field": "e", "type": "quantitative", "scale": {"domain": [0, 40], "nice": false}, "axis": {"values": [0,5,10,15,20,25,30,35,40], "labels": false, "title": null}},
"y": {"field": "v", "type": "quantitative", "scale": {"domain": [0, 3.2], "nice": false}, "axis": {"values": [0,1,2], "labelExpr": "datum.value % 2 == 0 ? datum.label : ''", "title": null}},
"color": {"field": "s", "type": "nominal", "scale": {"domain": ["(100)", "(001)"], "range": ["#e8202a", "#222222"]}, "legend": {"title": null, "legendX": 222, "legendY": 26, "symbolStrokeWidth": 2, "symbolType": "M-1,0H2.4"}}}},
{"data": {"values": [{}]}, "mark": {"type": "text"}, "encoding": {"x": {"datum": 24.7}, "y": {"datum": 1.54}, "text": {"value": "x=0"}}}
]},
{"width": 279, "height": 75, "layer": [
{"data": {"name": "R2"}, "mark": {"type": "line", "strokeWidth": 1},
"encoding": {
"x": {"field": "e", "type": "quantitative", "scale": {"domain": [0, 40], "nice": false}, "axis": {"values": [0,5,10,15,20,25,30,35,40], "labels": false, "title": null}},
"y": {"field": "v", "type": "quantitative", "scale": {"domain": [0, 3.2], "nice": false}, "axis": {"values": [0,1,2], "labelExpr": "datum.value % 2 == 0 ? datum.label : ''", "title": null}},
"color": {"field": "s", "type": "nominal", "scale": {"domain": ["(100)", "(010)", "(001)"], "range": ["#f27676", "#8fd06c", "#555555"]}, "legend": {"title": null, "legendX": 224, "legendY": 18, "symbolStrokeWidth": 1, "symbolType": "M-1,0H2.4"}}}},
{"data": {"values": [{}]}, "mark": {"type": "text"}, "encoding": {"x": {"datum": 25.9}, "y": {"datum": 2.13}, "text": {"value": "x=0.25"}}}
]},
{"width": 279, "height": 75, "layer": [
{"data": {"name": "R3"}, "mark": {"type": "line", "strokeWidth": 1},
"encoding": {
"x": {"field": "e", "type": "quantitative", "scale": {"domain": [0, 40], "nice": false}, "axis": {"values": [0,5,10,15,20,25,30,35,40], "labels": false, "title": null}},
"y": {"field": "v", "type": "quantitative", "scale": {"domain": [0, 2.5], "nice": false}, "axis": {"values": [0,1,2], "labelExpr": "datum.value % 2 == 0 ? datum.label : ''", "title": "Extinction coefficient k"}},
"color": {"field": "s", "type": "nominal", "scale": {"domain": ["(100)", "(010)", "(001)"], "range": ["#f27676", "#8fd06c", "#555555"]}, "legend": {"title": null, "legendX": 223, "legendY": 20, "symbolStrokeWidth": 1, "symbolType": "M-1,0H2.4"}}}},
{"data": {"values": [{}]}, "mark": {"type": "text"}, "encoding": {"x": {"datum": 25.5}, "y": {"datum": 1.33}, "text": {"value": "x=0.5"}}}
]},
{"width": 279, "height": 75, "layer": [
{"data": {"name": "R4"}, "mark": {"type": "line", "strokeWidth": 1},
"encoding": {
"x": {"field": "e", "type": "quantitative", "scale": {"domain": [0, 40], "nice": false}, "axis": {"values": [0,5,10,15,20,25,30,35,40], "labels": false, "title": null}},
"y": {"field": "v", "type": "quantitative", "scale": {"domain": [0, 2.5], "nice": false}, "axis": {"values": [0,1,2], "labelExpr": "datum.value % 2 == 0 ? datum.label : ''", "title": null}},
"color": {"field": "s", "type": "nominal", "scale": {"domain": ["(100)", "(010)", "(001)"], "range": ["#f27676", "#8fd06c", "#555555"]}, "legend": {"title": null, "legendX": 223, "legendY": 15, "symbolStrokeWidth": 1, "symbolType": "M-1,0H2.4"}}}},
{"data": {"values": [{}]}, "mark": {"type": "text"}, "encoding": {"x": {"datum": 26.1}, "y": {"datum": 1.2}, "text": {"value": "x=0.75"}}}
]},
{"width": 279, "height": 75, "layer": [
{"data": {"name": "R5"}, "mark": {"type": "line", "strokeWidth": 2},
"encoding": {
"x": {"field": "e", "type": "quantitative", "scale": {"domain": [0, 40], "nice": false}, "axis": {"values": [0,5,10,15,20,25,30,35,40], "labelExpr": "datum.value % 10 == 0 ? datum.label : ''", "title": "Energy (eV)"}},
"y": {"field": "v", "type": "quantitative", "scale": {"domain": [0, 3.2], "nice": false}, "axis": {"values": [0,1,2], "labelExpr": "datum.value % 2 == 0 ? datum.label : ''", "title": null}},
"color": {"field": "s", "type": "nominal", "scale": {"domain": ["(100)", "(001)"], "range": ["#e8202a", "#222222"]}, "legend": {"title": null, "legendX": 224, "legendY": 24, "symbolStrokeWidth": 2, "symbolType": "M-1,0H2.4"}}}},
{"data": {"values": [{}]}, "mark": {"type": "text"}, "encoding": {"x": {"datum": 25.1}, "y": {"datum": 2.18}, "text": {"value": "x=1"}}}
]}
]
}
],
"spacing": 39,
"resolve": {"scale": {"color": "independent"}, "legend": {"color": "independent"}},
"config": {
"font": "Liberation Sans",
"view": {"stroke": "#000000", "strokeWidth": 2},
"axis": {"domain": false, "grid": false, "tickColor": "#000000", "tickWidth": 1.5, "tickSize": 3, "labelFontSize": 12, "labelColor": "#222222", "labelFont": "Liberation Sans", "titleFont": "Liberation Sans", "titleFontWeight": "bold", "titleColor": "#111111", "labelOverlap": false, "labelBound": false, "labelFlush": false},
"axisY": {"labelPadding": 2, "titleFontSize": 17, "titlePadding": 4},
"axisX": {"labelPadding": 3, "titleFontSize": 15, "titlePadding": 4},
"legend": {"orient": "none", "symbolType": "M-1,0H2.4", "symbolSize": 169, "labelFontSize": 10, "labelOffset": 10, "rowPadding": 0, "padding": 2, "strokeColor": "#aaaaaa", "fillColor": "#ffffff", "labelColor": "#111111", "labelFont": "Liberation Sans"},
"text": {"font": "Liberation Sans", "fontSize": 12, "color": "#111111"}
}
}
